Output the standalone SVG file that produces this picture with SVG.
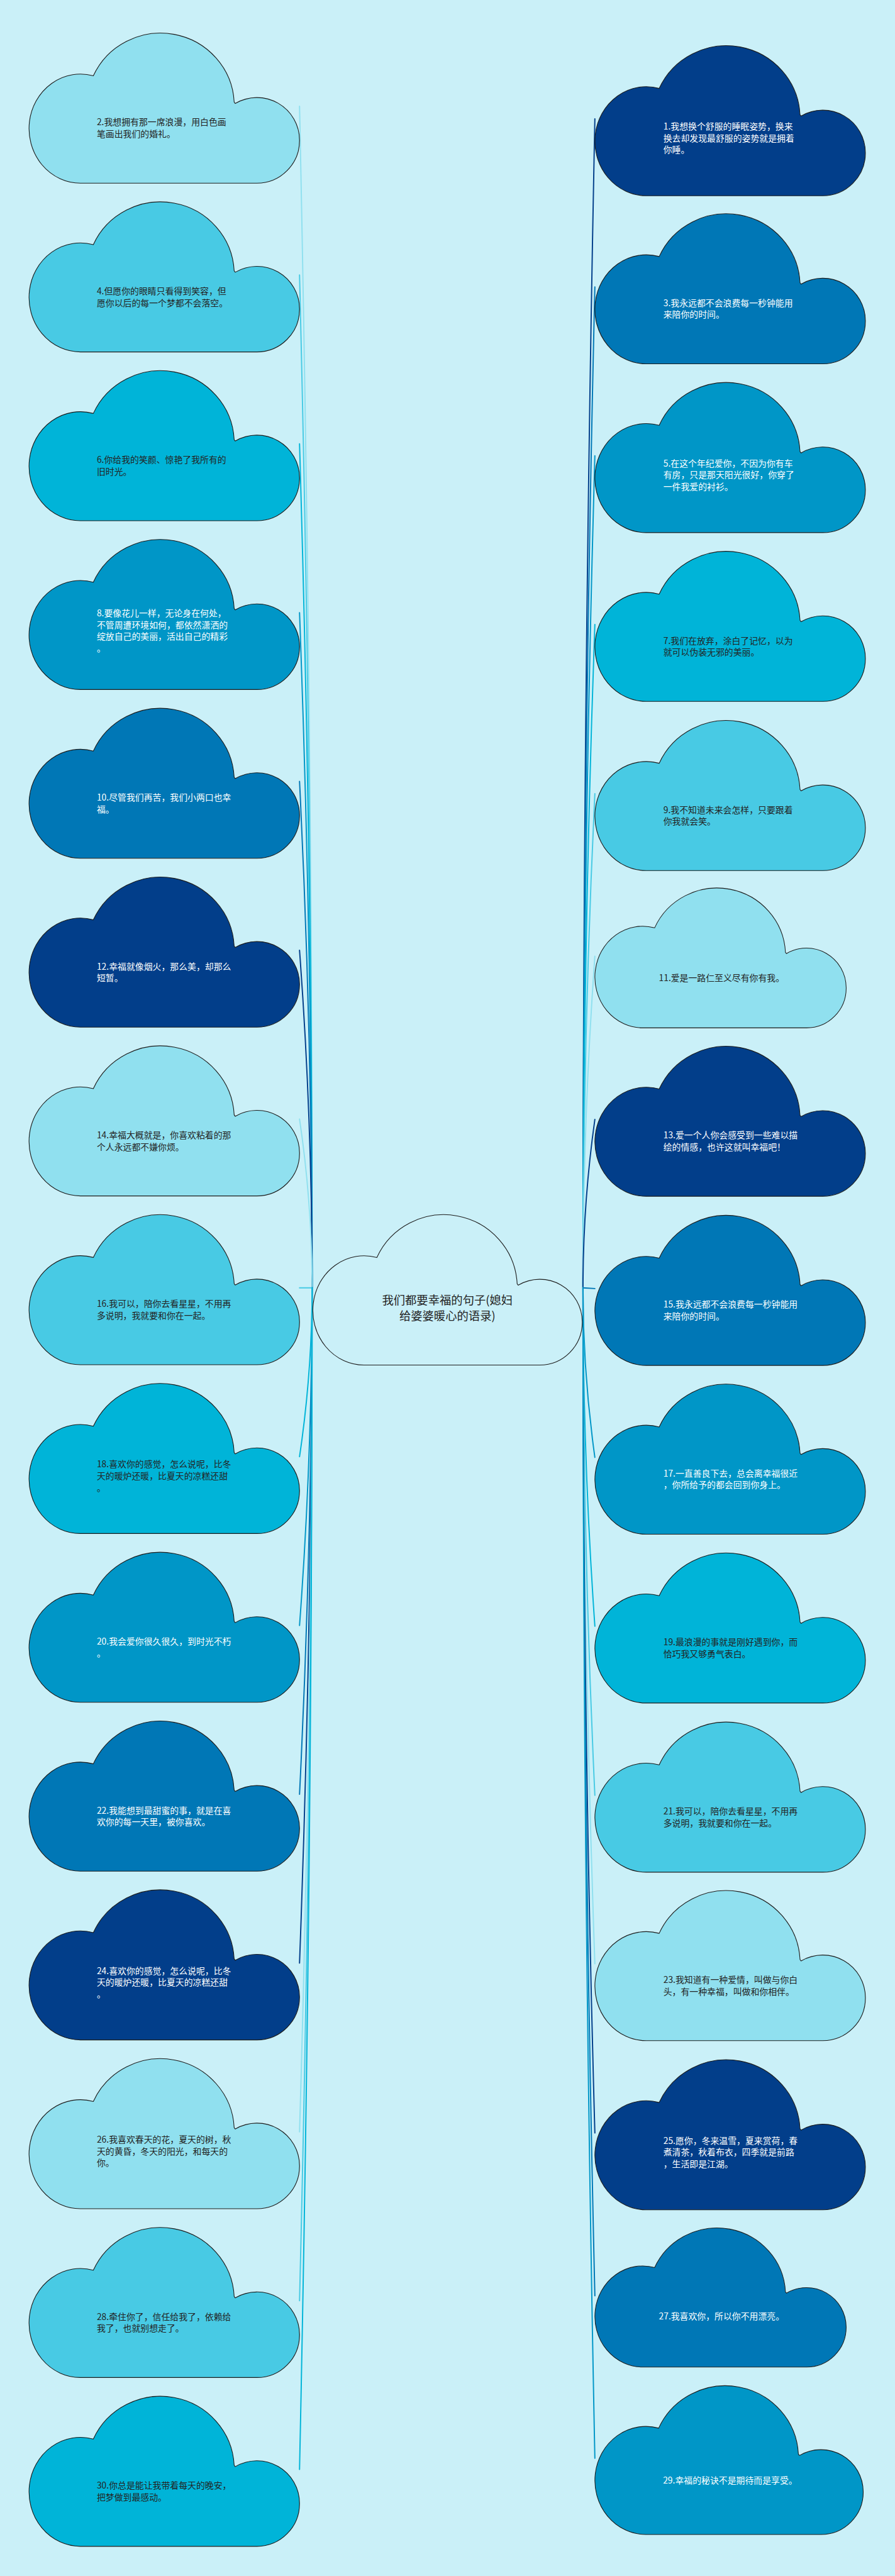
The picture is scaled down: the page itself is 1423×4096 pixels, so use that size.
<svg xmlns="http://www.w3.org/2000/svg" width="1423" height="4096" viewBox="0 0 1423 4096">
<defs>
<style>
.cl{stroke:#1c1c1c;stroke-width:2}
.t{font-family:"Noto Sans CJK SC","Noto Sans",sans-serif;font-size:25px}
.dk{fill:#232323}
.wt{fill:#ffffff}
.ct{font-family:"Noto Sans CJK SC","Noto Sans",sans-serif;font-size:33px;fill:#232323;text-anchor:middle}
.ln{fill:none;stroke-width:3.5;stroke-linecap:round}
</style>
<path id="cloud" d="M147,440 A147,156 0 1 1 184,133 A211,208 0 0 1 587,208 L590,212 A122,122 0 0 1 774,318 A122,122 0 0 1 652,440 Z"/>
</defs>
<rect x="0" y="0" width="1423" height="4096" fill="#caf0f8"/>
<g transform="scale(0.5557)">
<g id="connectors">
<path class="ln" stroke="#90e0ef" d="M857,304 Q893,1994.5 893,3685"/>
<path class="ln" stroke="#48cae4" d="M857,787 Q893,2236 893,3685"/>
<path class="ln" stroke="#00b4d8" d="M857,1270 Q893,2477.5 893,3685"/>
<path class="ln" stroke="#0096c7" d="M857,1753 Q893,2719 893,3685"/>
<path class="ln" stroke="#0077b6" d="M857,2236 Q893,2960.5 893,3685"/>
<path class="ln" stroke="#023e8a" d="M857,2719 Q893,3202 893,3685"/>
<path class="ln" stroke="#90e0ef" d="M857,3202 Q893,3443.5 893,3685"/>
<path class="ln" stroke="#48cae4" d="M857,3685 L893,3685"/>
<path class="ln" stroke="#00b4d8" d="M857,4168 Q893,3926.5 893,3685"/>
<path class="ln" stroke="#0096c7" d="M857,4651 Q893,4168 893,3685"/>
<path class="ln" stroke="#0077b6" d="M857,5134 Q893,4409.5 893,3685"/>
<path class="ln" stroke="#023e8a" d="M857,5617 Q893,4651 893,3685"/>
<path class="ln" stroke="#90e0ef" d="M857,6100 Q893,4892.5 893,3685"/>
<path class="ln" stroke="#48cae4" d="M857,6583 Q893,5134 893,3685"/>
<path class="ln" stroke="#00b4d8" d="M857,7066 Q893,5375.5 893,3685"/>
<path class="ln" stroke="#023e8a" d="M1702,340 Q1668,2012.5 1668,3685"/>
<path class="ln" stroke="#0077b6" d="M1702,821 Q1668,2253 1668,3685"/>
<path class="ln" stroke="#0096c7" d="M1702,1304 Q1668,2494.5 1668,3685"/>
<path class="ln" stroke="#00b4d8" d="M1702,1787 Q1668,2736 1668,3685"/>
<path class="ln" stroke="#48cae4" d="M1702,2271 Q1668,2978 1668,3685"/>
<path class="ln" stroke="#90e0ef" d="M1702,2736 Q1668,3210.5 1668,3685"/>
<path class="ln" stroke="#023e8a" d="M1702,3203 Q1668,3444 1668,3685"/>
<path class="ln" stroke="#0077b6" d="M1702,3687 L1668,3685"/>
<path class="ln" stroke="#0096c7" d="M1702,4170 Q1668,3927.5 1668,3685"/>
<path class="ln" stroke="#00b4d8" d="M1702,4653 Q1668,4169 1668,3685"/>
<path class="ln" stroke="#48cae4" d="M1702,5137 Q1668,4411 1668,3685"/>
<path class="ln" stroke="#90e0ef" d="M1702,5619 Q1668,4652 1668,3685"/>
<path class="ln" stroke="#023e8a" d="M1702,6103 Q1668,4894 1668,3685"/>
<path class="ln" stroke="#0077b6" d="M1702,6569 Q1668,5127 1668,3685"/>
<path class="ln" stroke="#0096c7" d="M1702,7034 Q1668,5359.5 1668,3685"/>
</g>
<g id="center">
<use href="#cloud" class="cl" fill="#caf0f8" transform="translate(895 3465) scale(0.996 1.002)"/>
<text class="ct" x="1280" y="3732"><tspan x="1280">我们都要幸福的句子(媳妇</tspan><tspan x="1280" dy="46">给婆婆暖心的语录)</tspan></text>
</g>
<g id="n2"><use href="#cloud" class="cl" fill="#90e0ef" transform="translate(83 84)"/>
<text class="t dk" x="277" y="359"><tspan x="277">2.我想拥有那一席浪漫，用白色画</tspan><tspan x="277" dy="33.5">笔画出我们的婚礼。</tspan></text></g>
<g id="n4"><use href="#cloud" class="cl" fill="#48cae4" transform="translate(83 567)"/>
<text class="t dk" x="277" y="842"><tspan x="277">4.但愿你的眼睛只看得到笑容，但</tspan><tspan x="277" dy="33.5">愿你以后的每一个梦都不会落空。</tspan></text></g>
<g id="n6"><use href="#cloud" class="cl" fill="#00b4d8" transform="translate(83 1050)"/>
<text class="t dk" x="277" y="1325"><tspan x="277">6.你给我的笑颜、惊艳了我所有的</tspan><tspan x="277" dy="33.5">旧时光。</tspan></text></g>
<g id="n8"><use href="#cloud" class="cl" fill="#0096c7" transform="translate(83 1533)"/>
<text class="t wt" x="277" y="1764"><tspan x="277">8.要像花儿一样，无论身在何处，</tspan><tspan x="277" dy="33.5">不管周遭环境如何，都依然潇洒的</tspan><tspan x="277" dy="33.5">绽放自己的美丽，活出自己的精彩</tspan><tspan x="277" dy="33.5">。</tspan></text></g>
<g id="n10"><use href="#cloud" class="cl" fill="#0077b6" transform="translate(83 2016)"/>
<text class="t wt" x="277" y="2291"><tspan x="277">10.尽管我们再苦，我们小两口也幸</tspan><tspan x="277" dy="33.5">福。</tspan></text></g>
<g id="n12"><use href="#cloud" class="cl" fill="#023e8a" transform="translate(83 2499)"/>
<text class="t wt" x="277" y="2774"><tspan x="277">12.幸福就像烟火，那么美，却那么</tspan><tspan x="277" dy="33.5">短暂。</tspan></text></g>
<g id="n14"><use href="#cloud" class="cl" fill="#90e0ef" transform="translate(83 2982)"/>
<text class="t dk" x="277" y="3257"><tspan x="277">14.幸福大概就是，你喜欢粘着的那</tspan><tspan x="277" dy="33.5">个人永远都不嫌你烦。</tspan></text></g>
<g id="n16"><use href="#cloud" class="cl" fill="#48cae4" transform="translate(83 3465)"/>
<text class="t dk" x="277" y="3740"><tspan x="277">16.我可以，陪你去看星星，不用再</tspan><tspan x="277" dy="33.5">多说明，我就要和你在一起。</tspan></text></g>
<g id="n18"><use href="#cloud" class="cl" fill="#00b4d8" transform="translate(83 3948)"/>
<text class="t dk" x="277" y="4199"><tspan x="277">18.喜欢你的感觉，怎么说呢，比冬</tspan><tspan x="277" dy="33.5">天的暖炉还暖，比夏天的凉糕还甜</tspan><tspan x="277" dy="33.5">。</tspan></text></g>
<g id="n20"><use href="#cloud" class="cl" fill="#0096c7" transform="translate(83 4431)"/>
<text class="t wt" x="277" y="4706"><tspan x="277">20.我会爱你很久很久，到时光不朽</tspan><tspan x="277" dy="33.5">。</tspan></text></g>
<g id="n22"><use href="#cloud" class="cl" fill="#0077b6" transform="translate(83 4914)"/>
<text class="t wt" x="277" y="5189"><tspan x="277">22.我能想到最甜蜜的事，就是在喜</tspan><tspan x="277" dy="33.5">欢你的每一天里，被你喜欢。</tspan></text></g>
<g id="n24"><use href="#cloud" class="cl" fill="#023e8a" transform="translate(83 5397)"/>
<text class="t wt" x="277" y="5648"><tspan x="277">24.喜欢你的感觉，怎么说呢，比冬</tspan><tspan x="277" dy="33.5">天的暖炉还暖，比夏天的凉糕还甜</tspan><tspan x="277" dy="33.5">。</tspan></text></g>
<g id="n26"><use href="#cloud" class="cl" fill="#90e0ef" transform="translate(83 5880)"/>
<text class="t dk" x="277" y="6131"><tspan x="277">26.我喜欢春天的花，夏天的树，秋</tspan><tspan x="277" dy="33.5">天的黄昏，冬天的阳光，和每天的</tspan><tspan x="277" dy="33.5">你。</tspan></text></g>
<g id="n28"><use href="#cloud" class="cl" fill="#48cae4" transform="translate(83 6363)"/>
<text class="t dk" x="277" y="6638"><tspan x="277">28.牵住你了，信任给我了，依赖给</tspan><tspan x="277" dy="33.5">我了，也就别想走了。</tspan></text></g>
<g id="n30"><use href="#cloud" class="cl" fill="#00b4d8" transform="translate(83 6846)"/>
<text class="t dk" x="277" y="7121"><tspan x="277">30.你总是能让我带着每天的晚安，</tspan><tspan x="277" dy="33.5">把梦做到最感动。</tspan></text></g>
<g id="n1"><use href="#cloud" class="cl" fill="#023e8a" transform="translate(1702 120)"/>
<text class="t wt" x="1898" y="371"><tspan x="1898">1.我想换个舒服的睡眠姿势，换来</tspan><tspan x="1898" dy="33.5">换去却发现最舒服的姿势就是拥着</tspan><tspan x="1898" dy="33.5">你睡。</tspan></text></g>
<g id="n3"><use href="#cloud" class="cl" fill="#0077b6" transform="translate(1702 601)"/>
<text class="t wt" x="1898" y="876"><tspan x="1898">3.我永远都不会浪费每一秒钟能用</tspan><tspan x="1898" dy="33.5">来陪你的时间。</tspan></text></g>
<g id="n5"><use href="#cloud" class="cl" fill="#0096c7" transform="translate(1702 1084)"/>
<text class="t wt" x="1898" y="1335"><tspan x="1898">5.在这个年纪爱你，不因为你有车</tspan><tspan x="1898" dy="33.5">有房，只是那天阳光很好，你穿了</tspan><tspan x="1898" dy="33.5">一件我爱的衬衫。</tspan></text></g>
<g id="n7"><use href="#cloud" class="cl" fill="#00b4d8" transform="translate(1702 1567)"/>
<text class="t dk" x="1898" y="1842"><tspan x="1898">7.我们在放弃，涂白了记忆，以为</tspan><tspan x="1898" dy="33.5">就可以伪装无邪的美丽。</tspan></text></g>
<g id="n9"><use href="#cloud" class="cl" fill="#48cae4" transform="translate(1702 2051)"/>
<text class="t dk" x="1898" y="2326"><tspan x="1898">9.我不知道未来会怎样，只要跟着</tspan><tspan x="1898" dy="33.5">你我就会笑。</tspan></text></g>
<g id="n11"><use href="#cloud" class="cl" fill="#90e0ef" transform="translate(1702 2531) scale(0.929 0.932)"/>
<text class="t dk" x="1885" y="2808">11.爱是一路仁至义尽有你有我。</text></g>
<g id="n13"><use href="#cloud" class="cl" fill="#023e8a" transform="translate(1702 2983)"/>
<text class="t wt" x="1898" y="3258"><tspan x="1898">13.爱一个人你会感受到一些难以描</tspan><tspan x="1898" dy="33.5">绘的情感，也许这就叫幸福吧！</tspan></text></g>
<g id="n15"><use href="#cloud" class="cl" fill="#0077b6" transform="translate(1702 3467)"/>
<text class="t wt" x="1898" y="3742"><tspan x="1898">15.我永远都不会浪费每一秒钟能用</tspan><tspan x="1898" dy="33.5">来陪你的时间。</tspan></text></g>
<g id="n17"><use href="#cloud" class="cl" fill="#0096c7" transform="translate(1702 3950)"/>
<text class="t wt" x="1898" y="4225"><tspan x="1898">17.一直善良下去，总会离幸福很近</tspan><tspan x="1898" dy="33.5">，你所给予的都会回到你身上。</tspan></text></g>
<g id="n19"><use href="#cloud" class="cl" fill="#00b4d8" transform="translate(1702 4433)"/>
<text class="t dk" x="1898" y="4708"><tspan x="1898">19.最浪漫的事就是刚好遇到你，而</tspan><tspan x="1898" dy="33.5">恰巧我又够勇气表白。</tspan></text></g>
<g id="n21"><use href="#cloud" class="cl" fill="#48cae4" transform="translate(1702 4917)"/>
<text class="t dk" x="1898" y="5192"><tspan x="1898">21.我可以，陪你去看星星，不用再</tspan><tspan x="1898" dy="33.5">多说明，我就要和你在一起。</tspan></text></g>
<g id="n23"><use href="#cloud" class="cl" fill="#90e0ef" transform="translate(1702 5399)"/>
<text class="t dk" x="1898" y="5674"><tspan x="1898">23.我知道有一种爱情，叫做与你白</tspan><tspan x="1898" dy="33.5">头，有一种幸福，叫做和你相伴。</tspan></text></g>
<g id="n25"><use href="#cloud" class="cl" fill="#023e8a" transform="translate(1702 5883)"/>
<text class="t wt" x="1898" y="6134"><tspan x="1898">25.愿你，冬来温雪，夏来赏荷，春</tspan><tspan x="1898" dy="33.5">煮清茶，秋着布衣，四季就是前路</tspan><tspan x="1898" dy="33.5">，生活即是江湖。</tspan></text></g>
<g id="n27"><use href="#cloud" class="cl" fill="#0077b6" transform="translate(1702 6365) scale(0.929 0.927)"/>
<text class="t wt" x="1885" y="6637">27.我喜欢你，所以你不用漂亮。</text></g>
<g id="n29"><use href="#cloud" class="cl" fill="#0096c7" transform="translate(1702 6816) scale(0.992 0.991)"/>
<text class="t wt" x="1897" y="7106">29.幸福的秘诀不是期待而是享受。</text></g>
</g>
</svg>
